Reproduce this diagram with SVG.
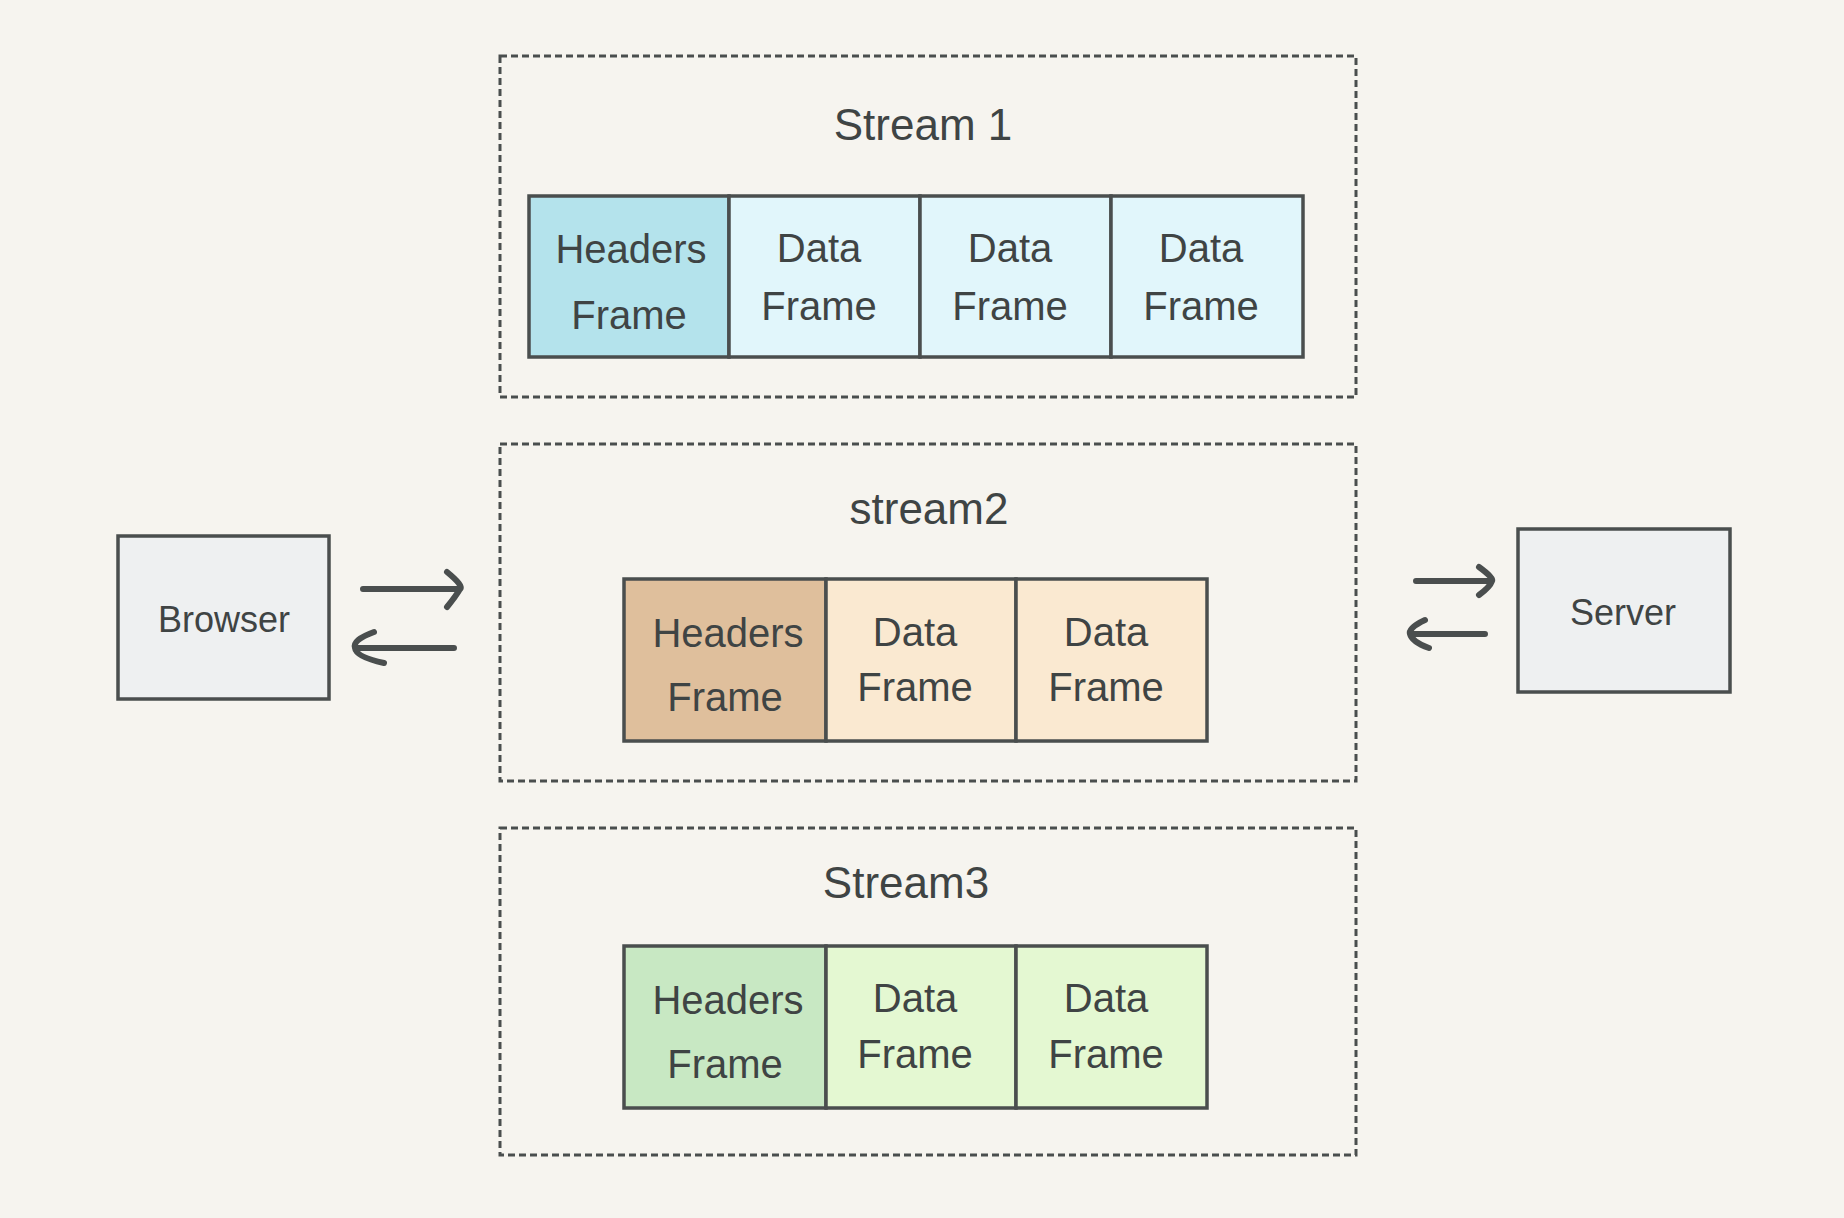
<svg xmlns="http://www.w3.org/2000/svg" width="1844" height="1218" viewBox="0 0 1844 1218">
<style>
.bg{fill:#f6f4ef}
.grp{fill:none;stroke:#4a4e4e;stroke-width:3;stroke-dasharray:7 4}
.fr{stroke:#4a4e4e;stroke-width:3.5}
.t{font-family:"Liberation Sans","DejaVu Sans",sans-serif;fill:#3f4444;text-anchor:middle}
.ft{font-size:40px}
.tt{font-size:44px}
.arr{fill:none;stroke:#4a4e4e;stroke-width:6;stroke-linecap:round;stroke-linejoin:round}
.b1h{fill:#b4e3ec}.b1d{fill:#e1f6fb}
.b2h{fill:#dfbf9c}.b2d{fill:#fae9d1}
.b3h{fill:#c8e8c3}.b3d{fill:#e4f8d2}
.node{fill:#eef0f1;stroke:#4a4e4e;stroke-width:3.5}
</style>
<rect class="bg" x="0" y="0" width="1844" height="1218"/>

<g id="stream1">
<rect class="grp" x="500" y="56" width="856" height="341"/>
<text class="t tt" x="923" y="140">Stream 1</text>
<g id="s1-headers"><rect class="fr b1h" x="529" y="196" width="200" height="161"/>
<text class="t ft" x="631" y="263">Headers</text><text class="t ft" x="629" y="329">Frame</text></g>
<g id="s1-data1"><rect class="fr b1d" x="729" y="196" width="191" height="161"/>
<text class="t ft" x="819" y="262">Data</text><text class="t ft" x="819" y="320">Frame</text></g>
<g id="s1-data2"><rect class="fr b1d" x="920" y="196" width="191" height="161"/>
<text class="t ft" x="1010" y="262">Data</text><text class="t ft" x="1010" y="320">Frame</text></g>
<g id="s1-data3"><rect class="fr b1d" x="1111" y="196" width="192" height="161"/>
<text class="t ft" x="1201" y="262">Data</text><text class="t ft" x="1201" y="320">Frame</text></g>
</g>

<g id="stream2">
<rect class="grp" x="500" y="444" width="856" height="337"/>
<text class="t tt" x="929" y="524">stream2</text>
<g id="s2-headers"><rect class="fr b2h" x="624" y="579" width="202" height="162"/>
<text class="t ft" x="728" y="647">Headers</text><text class="t ft" x="725" y="711">Frame</text></g>
<g id="s2-data1"><rect class="fr b2d" x="826" y="579" width="190" height="162"/>
<text class="t ft" x="915" y="646">Data</text><text class="t ft" x="915" y="701">Frame</text></g>
<g id="s2-data2"><rect class="fr b2d" x="1016" y="579" width="191" height="162"/>
<text class="t ft" x="1106" y="646">Data</text><text class="t ft" x="1106" y="701">Frame</text></g>
</g>

<g id="stream3">
<rect class="grp" x="500" y="828" width="856" height="327"/>
<text class="t tt" x="906" y="898">Stream3</text>
<g id="s3-headers"><rect class="fr b3h" x="624" y="946" width="202" height="162"/>
<text class="t ft" x="728" y="1014">Headers</text><text class="t ft" x="725" y="1078">Frame</text></g>
<g id="s3-data1"><rect class="fr b3d" x="826" y="946" width="190" height="162"/>
<text class="t ft" x="915" y="1012">Data</text><text class="t ft" x="915" y="1068">Frame</text></g>
<g id="s3-data2"><rect class="fr b3d" x="1016" y="946" width="191" height="162"/>
<text class="t ft" x="1106" y="1012">Data</text><text class="t ft" x="1106" y="1068">Frame</text></g>
</g>

<g id="browser">
<rect class="node" x="118" y="536" width="211" height="163"/>
<text class="t" style="font-size:36px" x="224" y="632">Browser</text>
</g>

<g id="server">
<rect class="node" x="1518" y="529" width="212" height="163"/>
<text class="t" style="font-size:36px" x="1623" y="625">Server</text>
</g>

<g id="connectors">
<path class="arr" d="M363 589 H460 M447 572 Q464 586 460 589 Q456 596 447 607"/>
<path class="arr" d="M454 648 H356 M374 632 Q352 640 355 648 Q356 657 384 663"/>
<path class="arr" d="M1416 581 H1490 M1479 567 Q1494 578 1492 581 Q1490 587 1479 595"/>
<path class="arr" d="M1485 634 H1413 M1425 620 Q1408 628 1410 634 Q1412 642 1429 648"/>
</g>
</svg>
